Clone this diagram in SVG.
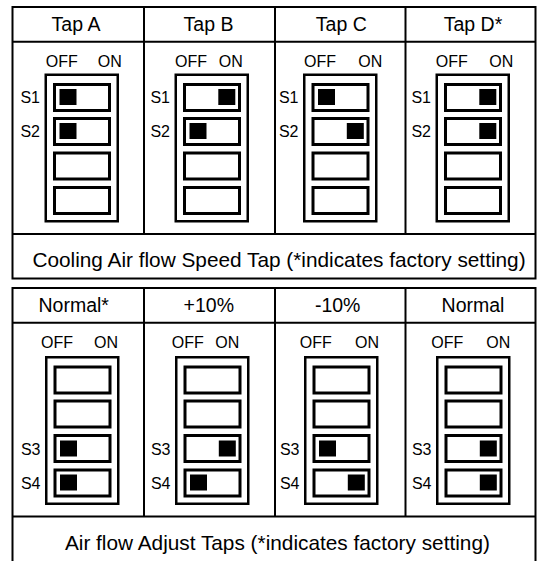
<svg xmlns="http://www.w3.org/2000/svg" xmlns:xlink="http://www.w3.org/1999/xlink" width="538" height="561" viewBox="0 0 538 561">
<style>
  text { font-family: "Liberation Sans", Arial, Helvetica, sans-serif; fill: #000; }
  .hdr { font-size: 19.5px; text-anchor: middle; }
  .cap { font-size: 20.8px; text-anchor: middle; }
  .lbl { font-size: 16px; }
  .end { text-anchor: end; }
  .frame { fill: none; stroke: #000; stroke-width: 2; }
  .body { fill: #fff; stroke: #000; stroke-width: 2.5; }
  .pad { fill: #fff; stroke: #000; stroke-width: 3; }
  .knob { fill: #000; }
</style>
<defs>
  <g id="sw">
    <rect class="body" x="1.25" y="1.25" width="72" height="146.5"/>
    <rect class="pad" x="10" y="11" width="55" height="26"/>
    <rect class="pad" x="10" y="45" width="55" height="26"/>
    <rect class="pad" x="10" y="79.5" width="55" height="26"/>
    <rect class="pad" x="10" y="114" width="55" height="26"/>
  </g>
</defs>
<rect x="0" y="0" width="538" height="561" fill="#fff"/>

<g id="connectors">
  <rect class="frame" x="12.5" y="7" width="523" height="271.5"/>
  <line class="frame" x1="12.5" y1="41.7" x2="535.5" y2="41.7"/>
  <line class="frame" x1="12.5" y1="234" x2="535.5" y2="234"/>
  <line class="frame" x1="144" y1="7" x2="144" y2="234"/>
  <line class="frame" x1="275" y1="7" x2="275" y2="234"/>
  <line class="frame" x1="405.5" y1="7" x2="405.5" y2="234"/>
  <rect class="frame" x="12.5" y="288" width="523" height="274"/>
  <line class="frame" x1="12.5" y1="322.7" x2="535.5" y2="322.7"/>
  <line class="frame" x1="12.5" y1="516.5" x2="535.5" y2="516.5"/>
  <line class="frame" x1="144" y1="288" x2="144" y2="516.5"/>
  <line class="frame" x1="275" y1="288" x2="275" y2="516.5"/>
  <line class="frame" x1="405.5" y1="288" x2="405.5" y2="516.5"/>
</g>

<g id="tapA">
  <text class="hdr" x="76" y="30.5">Tap A</text>
  <text class="lbl" x="45.7" y="66.7">OFF</text>
  <text class="lbl end" x="121.7" y="66.7">ON</text>
  <use xlink:href="#sw" x="44.5" y="73.5"/>
  <text class="lbl end" x="40" y="102.5">S1</text>
  <text class="lbl end" x="40" y="136.5">S2</text>
  <rect class="knob" x="59.5" y="89" width="17" height="16"/>
  <rect class="knob" x="59.5" y="123" width="17" height="16"/>
</g>
<g id="tapB">
  <text class="hdr" x="208.5" y="30.5">Tap B</text>
  <text class="lbl" x="175" y="66.7">OFF</text>
  <text class="lbl end" x="242.7" y="66.7">ON</text>
  <use xlink:href="#sw" x="174.5" y="73.5"/>
  <text class="lbl end" x="170" y="102.5">S1</text>
  <text class="lbl end" x="170" y="136.5">S2</text>
  <rect class="knob" x="218.3" y="89" width="17" height="16"/>
  <rect class="knob" x="189.5" y="123" width="17" height="16"/>
</g>
<g id="tapC">
  <text class="hdr" x="341.3" y="30.5">Tap C</text>
  <text class="lbl" x="304" y="66.7">OFF</text>
  <text class="lbl end" x="382.3" y="66.7">ON</text>
  <use xlink:href="#sw" x="303" y="73.5"/>
  <text class="lbl end" x="298.5" y="102.5">S1</text>
  <text class="lbl end" x="298.5" y="136.5">S2</text>
  <rect class="knob" x="318" y="89" width="17" height="16"/>
  <rect class="knob" x="346.8" y="123" width="17" height="16"/>
</g>
<g id="tapD">
  <text class="hdr" x="473" y="30.5">Tap D*</text>
  <text class="lbl" x="435.7" y="66.7">OFF</text>
  <text class="lbl end" x="513.3" y="66.7">ON</text>
  <use xlink:href="#sw" x="435.5" y="73.5"/>
  <text class="lbl end" x="431" y="102.5">S1</text>
  <text class="lbl end" x="431" y="136.5">S2</text>
  <rect class="knob" x="479.3" y="89" width="17" height="16"/>
  <rect class="knob" x="479.3" y="123" width="17" height="16"/>
</g>
<g id="caption1">
  <text class="cap" x="279" y="266.5">Cooling Air flow Speed Tap (*indicates factory setting)</text>
</g>

<g id="normalStar">
  <text class="hdr" x="73.7" y="311.5">Normal*</text>
  <text class="lbl" x="41" y="348.3">OFF</text>
  <text class="lbl end" x="118" y="348.3">ON</text>
  <use xlink:href="#sw" x="45" y="356"/>
  <text class="lbl end" x="40.5" y="454.5">S3</text>
  <text class="lbl end" x="40.5" y="489">S4</text>
  <rect class="knob" x="60" y="440.5" width="17" height="16"/>
  <rect class="knob" x="60" y="474.5" width="17" height="16"/>
</g>
<g id="plus10">
  <text class="hdr" x="208.8" y="311.5">+10%</text>
  <text class="lbl" x="171.7" y="348.3">OFF</text>
  <text class="lbl end" x="239.3" y="348.3">ON</text>
  <use xlink:href="#sw" x="175" y="356"/>
  <text class="lbl end" x="170.5" y="454.5">S3</text>
  <text class="lbl end" x="170.5" y="489">S4</text>
  <rect class="knob" x="218.8" y="440.5" width="17" height="16"/>
  <rect class="knob" x="190" y="474.5" width="17" height="16"/>
</g>
<g id="minus10">
  <text class="hdr" x="337.7" y="311.5">-10%</text>
  <text class="lbl" x="299.7" y="348.3">OFF</text>
  <text class="lbl end" x="379" y="348.3">ON</text>
  <use xlink:href="#sw" x="304" y="356"/>
  <text class="lbl end" x="299.5" y="454.5">S3</text>
  <text class="lbl end" x="299.5" y="489">S4</text>
  <rect class="knob" x="319" y="440.5" width="17" height="16"/>
  <rect class="knob" x="347.8" y="474.5" width="17" height="16"/>
</g>
<g id="normal">
  <text class="hdr" x="473" y="311.5">Normal</text>
  <text class="lbl" x="431.3" y="348.3">OFF</text>
  <text class="lbl end" x="510.3" y="348.3">ON</text>
  <use xlink:href="#sw" x="436" y="356"/>
  <text class="lbl end" x="431.5" y="454.5">S3</text>
  <text class="lbl end" x="431.5" y="489">S4</text>
  <rect class="knob" x="479.8" y="440.5" width="17" height="16"/>
  <rect class="knob" x="479.8" y="474.5" width="17" height="16"/>
</g>
<g id="caption2">
  <text class="cap" x="277.4" y="549.5">Air flow Adjust Taps (*indicates factory setting)</text>
</g>
</svg>
